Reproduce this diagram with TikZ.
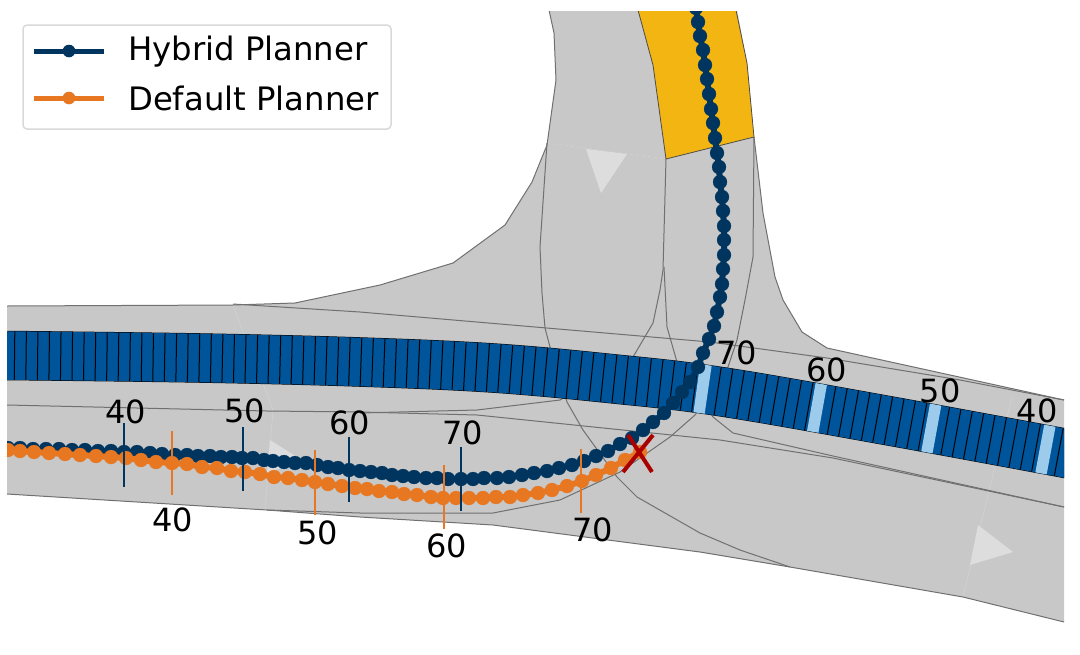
\documentclass[tikz,border=0pt]{standalone}
\usepackage{fontspec}
\usepackage{xcolor}
\setmainfont{DejaVu Sans}
\definecolor{roadgray}{HTML}{C8C8C8}
\definecolor{lanegray}{HTML}{707070}
\definecolor{markgray}{HTML}{DDDDDD}
\definecolor{crossblue}{HTML}{00549A}
\definecolor{stripblue}{HTML}{9CCBEC}
\definecolor{hybridnavy}{HTML}{00355F}
\definecolor{defaultorange}{HTML}{E87722}
\definecolor{yieldyellow}{HTML}{F2B511}
\definecolor{crashred}{HTML}{AA0000}
\tikzset{
edgeline/.style={lanegray,line width=1pt},
lane/.style={lanegray,line width=1pt},
seam/.style={white,opacity=0.15,line width=0.8pt},
arrowmark/.style={fill=markgray,draw=none},
hybridpath/.style={hybridnavy,line width=6pt,mark=*,mark size=7pt,mark options={line width=0.2pt,fill=hybridnavy}},
defaultpath/.style={defaultorange,line width=6pt,mark=*,mark size=7pt,mark options={line width=0.2pt,fill=defaultorange}},
numlabel/.style={font=\fontsize{32}{38}\selectfont,inner sep=0pt,text=black},
keylabel/.style={font=\fontsize{32.3}{38}\selectfont,inner sep=0pt,anchor=west,text=black},
}
\newcommand{\bandline}{plot[smooth,tension=0.6] coordinates {(7,355.5)(200,358)(360,362)(493,368)(610,378.5)(720,391.5)(890,421)(1080,456)}}
\begin{document}
\begin{tikzpicture}[x=1pt,y=-1pt]
\useasboundingbox (0,0) rectangle (1080,654);
\begin{scope}
\clip (7,11) rectangle (1064,654);
% road surface
\fill[roadgray](549,10)--(554,33)--(556,80)--(547,145)--(532,182)--(505,225)--(453,263)--(380,285)--(295,303)--(233,305)--(7,306)
--(7,494)--(267,510)--(360,517)--(493,525)--(700,552)--(790,567)--(963,597)--(1064,622)
--(1064,400)--(827,348)--(802,332)--(783,300)--(775,277)--(763,213)--(754,137)--(747,63)--(737,10)--cycle;
\draw[edgeline](549,10)--(554,33)--(556,80)--(547,145)--(532,182)--(505,225)--(453,263)--(380,285)--(295,303)--(233,305)--(7,306);
\draw[edgeline](7,494)--(267,510)--(360,517)--(493,525)--(700,552)--(790,567)--(963,597)--(1064,622);
\draw[edgeline](1064,400)--(827,348)--(802,332)--(783,300)--(775,277)--(763,213)--(754,137);
% seams
\draw[seam](233,305)--(273,410)--(265,510);
\draw[seam](1012,397)--(963,597);
\draw[seam,dashed](547,143)--(666,159);
% lane borders
\draw[lane](233,304)--(360,312)--(710,342)--(827,358)--(960,380)--(1064,400);
\draw[lane](7,405)--(267,411)--(360,412)--(477,415)--(720,440)--(833,458)--(1064,507);
\draw[lane](666,159)--(663,270)--(660,290)--(653,323)--(633,357)--(560,400)--(477,410)--(360,413);
\draw[lane](664,267)--(667,327)--(677,362)--(713,417)--(733,433)--(833,456)--(1064,507);
\draw[lane](547,143)--(540,247)--(542,293)--(545,328)--(550,347)--(567,402)--(583,430)--(617,477)--(637,497)--(700,533)--(740,550)--(790,567);
\draw[lane](754,137)--(753,257)--(745,300)--(737,340)--(728,367)--(695,415)--(670,437)--(620,472)--(560,500)--(493,513)--(360,513)--(267,510);
% yellow patch
\filldraw[fill=yieldyellow,draw=black!70,line width=0.8pt](638,10)--(653,65)--(666,159)--(754,137)--(747,63)--(736,10)--cycle;
% direction marks
\fill[arrowmark](586,149)--(627,154)--(601,193)--cycle;
\fill[arrowmark](978,525)--(1013,552)--(970,565)--cycle;
\fill[arrowmark](270,440)--(305,462)--(267,472)--cycle;
% crossing
\draw[black,line width=49.5pt]\bandline;
\draw[crossblue,line width=48.5pt]\bandline;
\draw[black,line width=48.5pt,dash pattern=on 1pt off 10.55pt,dash phase=4.5pt]\bandline;
\draw[stripblue,line width=48.5pt,dash pattern=on 0pt off 691pt on 11.5pt off 104.6pt on 11.5pt off 104.6pt on 11.5pt off 104.6pt on 11.5pt off 300pt]\bandline;
% planners
\draw[hybridpath] plot coordinates {(696,8)(698,22)(700,36)(703,50)(705,65)(707,79)(709,94)(711,109)(713,123)(715,138)(717,153)(719,167)(720,182)(722,197)(723,211)(724,226)(724,240)(724,255)(723,269)(722,284)(720,297)(717,312)(714,326)(709,339)(703,353)(698,367)(690,382)(682,392)(673,403)(664,413)(653,422)(643,430)(632,438)(620,444)(608,451)(596,456)(584,461)(572,465)(559,468)(547,471)(534,473)(522,475)(509,477)(497,478)(484,478)(473,479)(461,479)(448,479)(437,478)(426,478)(414,477)(403,476)(392,475)(382,473)(371,472)(360,471)(349,470)(338,468)(328,467)(317,465)(306,463)(295,463)(284,462)(273,461)(264,460)(253,458)(242,458)(232,457)(221,457)(210,456)(198,456)(187,455)(175,455)(162,454)(150,453)(137,452)(124,452)(111,451)(98,451)(85,450)(72,450)(59,449)(46,449)(33,449)(20,448)(8,448)};
\draw[defaultpath] plot coordinates {(8,450)(20,451)(34,452)(49,453)(65,454)(80,455)(96,456)(111,457)(126,458)(141,460)(156,462)(172,463)(187,464)(202,467)(217,468)(231,471)(245,472)(260,474)(274,477)(288,478)(302,480)(315,482)(328,484)(342,486)(355,488)(367,489)(379,491)(392,492)(404,494)(417,495)(431,497)(443,498)(456,498)(469,498)(483,498)(496,497)(510,497)(523,495)(538,493)(552,490)(567,486)(582,481)(596,475)(611,468)(625,460)(640,452)};
\end{scope}
% ticks
\foreach \tx/\ta/\tb in {124/423/487,243/427/491,349/437/502,461/447/511}
\draw[hybridnavy,line width=2pt](\tx,\ta)--(\tx,\tb);
\foreach \tx/\ta/\tb in {171.5/431/495,315/450/515,443.5/465/529,581/449/513}
\draw[defaultorange,line width=2pt](\tx,\ta)--(\tx,\tb);
% speed labels
\node[numlabel](h40) at (126,411.5){40};
\node[numlabel](h50) at (245,411){50};
\node[numlabel](h60) at (350,423){60};
\node[numlabel](h70) at (463,433){70};
\node[numlabel](d40) at (173,520){40};
\node[numlabel](d50) at (318,533){50};
\node[numlabel](d60) at (447,546){60};
\node[numlabel](d70) at (593,530){70};
\node[numlabel](c70) at (737,353){70};
\node[numlabel](c60) at (827,370){60};
\node[numlabel](c50) at (940,391){50};
\node[numlabel](c40) at (1037,411){40};
% crash mark
\draw[crashred,line width=4pt](628,435)--(652,472)(653,435)--(623,472);
% legend
\filldraw[fill=white,draw=black!15,line width=1.5pt,rounded corners=4pt](23,25) rectangle (391,129);
\draw[hybridnavy,line width=5pt](34,51)--(104,51);
\fill[hybridnavy](69,51) circle (6.3);
\draw[defaultorange,line width=5pt](34,98)--(104,98);
\fill[defaultorange](69,98) circle (6.3);
\node[keylabel](hybridkey) at (128,51.5){Hybrid Planner};
\node[keylabel](defaultkey) at (128,98.5){Default Planner};
\end{tikzpicture}
\end{document}
